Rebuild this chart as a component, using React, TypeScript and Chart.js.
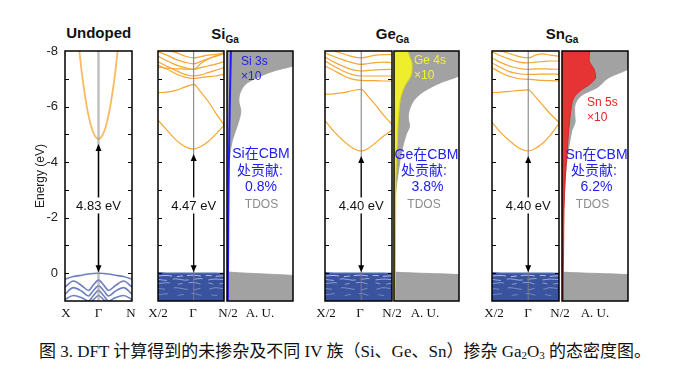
import React, { useEffect, useRef } from "react";
import { Chart, registerables } from "chart.js";
Chart.register(...registerables);

// ---------------- data ----------------
const E_MIN = -8;
const E_MAX = 1;
const GAP_LABEL_E = -2.44;
const yTicks = [-8, -6, -4, -2, 0];

// Undoped (X - Γ - N)
const undopedCbK = [-0.65, -0.5, -0.4, -0.3, -0.2, -0.1, 0, 0.1, 0.2, 0.3, 0.4, 0.5, 0.65];
const undopedCb = [-8.9, -7.23, -6.37, -5.69, -5.21, -4.93, -4.83, -4.93, -5.21, -5.69, -6.37, -7.23, -8.9];
const undopedVbK = [-1, -0.75, -0.5, -0.3, -0.15, 0, 0.15, 0.3, 0.5, 0.75, 1];
const undopedVb1 = [0.21, 0.12, 0.07, 0.03, 0.01, 0, 0.01, 0.03, 0.07, 0.12, 0.21];
const undopedVb2 = [0.5, 0.28, 0.45, 0.62, 0.42, 0.25, 0.42, 0.62, 0.45, 0.28, 0.5];
const undopedVb3 = [0.75, 0.52, 0.65, 0.82, 0.62, 0.45, 0.62, 0.82, 0.65, 0.52, 0.75];
const undopedVb4 = [0.95, 0.8, 0.88, 1.0, 0.8, 0.62, 0.8, 1.0, 0.88, 0.8, 0.95];
const undopedVb5 = [1.1, 1.05, 1.05, 1.1, 0.95, 0.8, 0.95, 1.1, 1.05, 1.05, 1.1];

// Doped (X/2 - Γ - N/2)
const dopedK = [-1, -0.75, -0.5, -0.25, 0, 0.2, 0.4, 0.6, 0.85];
const vbTop = [-0.02, 0, 0, 0, 0, 0, 0, 0, 0.01];
const vbStreakA = [0.1, 0.08, 0.12, 0.09, 0.07, 0.1, 0.08, 0.11, 0.09];
const vbStreakB = [0.22, 0.26, 0.2, 0.25, 0.22, 0.19, 0.24, 0.21, 0.23];
const vbStreakC = [0.38, 0.34, 0.4, 0.36, 0.33, 0.39, 0.35, 0.4, 0.36];
const vbStreakD = [0.55, 0.58, 0.52, 0.57, 0.6, 0.54, 0.58, 0.52, 0.56];
const vbStreakE = [0.78, 0.74, 0.8, 0.76, 0.73, 0.79, 0.75, 0.8, 0.77];

const siCb1 = [-5.51, -5.15, -4.8, -4.56, -4.47, -4.56, -4.73, -4.98, -5.32];
const siCb2 = [-6.5, -6.52, -6.58, -6.7, -6.8, -6.52, -6.2, -5.8, -5.34];
const siU1 = [-8.1, -8.02, -7.95, -7.82, -7.75, -7.8, -7.85, -7.88, -7.9];
const siU2 = [-7.97, -7.85, -7.7, -7.6, -7.54, -7.62, -7.72, -7.8, -7.9];
const siU3 = [-7.81, -7.65, -7.5, -7.4, -7.34, -7.4, -7.46, -7.52, -7.61];
const siU4 = [-7.61, -7.45, -7.3, -7.16, -7.1, -7.14, -7.22, -7.3, -7.4];
const siU5 = [-7.49, -7.35, -7.18, -7.06, -7.01, -7.04, -7.08, -7.1, -7.16];
const siU6 = [-7.42, -7.38, -7.36, -7.35, -7.34, -7.55, -7.7, -7.82, -7.95];

const geCb1 = [-5.49, -5.1, -4.78, -4.52, -4.4, -4.5, -4.7, -4.92, -5.15];
const geCb2 = [-6.44, -6.46, -6.5, -6.57, -6.62, -6.35, -6.05, -5.72, -5.36];
const geU1 = [-8.1, -8.0, -7.9, -7.8, -7.75, -7.8, -7.85, -7.87, -7.87];
const geU2 = [-7.93, -7.8, -7.68, -7.58, -7.52, -7.55, -7.58, -7.6, -7.58];
const geU3 = [-7.78, -7.6, -7.45, -7.33, -7.28, -7.3, -7.32, -7.33, -7.34];
const geU4 = [-7.64, -7.45, -7.28, -7.15, -7.1, -7.1, -7.1, -7.1, -7.1];
const geU5 = [-7.46, -7.3, -7.12, -6.99, -6.94, -6.93, -6.93, -6.92, -6.92];

const snCb1 = [-5.43, -5.05, -4.75, -4.5, -4.4, -4.5, -4.68, -4.95, -5.39];
const snCb2 = [-6.5, -6.52, -6.55, -6.58, -6.6, -6.35, -6.05, -5.75, -5.43];
const snU1 = [-8.1, -8.0, -7.9, -7.8, -7.75, -7.85, -7.9, -7.85, -7.81];
const snU2 = [-7.97, -7.82, -7.7, -7.6, -7.57, -7.6, -7.62, -7.64, -7.64];
const snU3 = [-7.75, -7.58, -7.45, -7.37, -7.34, -7.36, -7.36, -7.35, -7.34];
const snU4 = [-7.57, -7.4, -7.25, -7.18, -7.16, -7.16, -7.17, -7.17, -7.16];
const snU5 = [-7.4, -7.22, -7.08, -7.0, -6.98, -6.96, -6.94, -6.93, -6.92];

const gaps = { undoped: 4.83, si: 4.47, ge: 4.4, sn: 4.4 };

// DOS (energy, arbitrary-unit DOS)
const siTdosE = [-8.0, -7.7, -7.46, -7.28, -7.04, -6.86, -6.56, -6.2, -5.84, -5.49, -5.13, -4.77, -4.29, -3.45, -3.0, -0.06, 0.08, 0.3, 1.0];
const siTdosD = [1.4, 1.2, 1.0, 0.71, 0.46, 0.31, 0.21, 0.18, 0.21, 0.18, 0.13, 0.08, 0.045, 0.02, 0, 0, 1.0, 1.6, 1.6];
const siPdosE = [-8, -7, -6, -5, -4, -3, -2, -1, 0, 1];
const siPdosD = [0.06, 0.05, 0.042, 0.035, 0.028, 0.024, 0.02, 0.018, 0.015, 0.012];

const geTdosE = [-8, -7.5, -7.1, -6.86, -6.56, -6.26, -5.9, -5.6, -5.31, -5.01, -4.41, -3.7, -3.0, -2.0, -0.05, 0.05, 0.3, 1];
const geTdosD = [1.4, 1.2, 1.0, 0.72, 0.47, 0.32, 0.24, 0.22, 0.24, 0.19, 0.12, 0.07, 0.03, 0, 0, 1.0, 1.6, 1.6];
const gePdosE = [-8, -7.75, -7.52, -7.16, -6.75, -6.38, -5.9, -5.2, -4.3, -3.45, -2, 0, 1];
const gePdosD = [0.21, 0.25, 0.28, 0.27, 0.17, 0.11, 0.08, 0.06, 0.045, 0.03, 0.025, 0.02, 0.012];

const snTdosE = [-8, -7.7, -7.34, -7.04, -6.68, -6.44, -6.14, -5.84, -5.48, -5.13, -4.77, -4.17, -3.45, -2.5, -1.5, -0.05, 0.05, 0.3, 1];
const snTdosD = [1.4, 1.2, 1.0, 0.71, 0.53, 0.32, 0.21, 0.19, 0.2, 0.15, 0.12, 0.08, 0.05, 0.02, 0, 0, 1.0, 1.6, 1.6];
const snPdosE = [-8, -7.68, -7.32, -7.06, -6.8, -6.56, -6.32, -5.96, -5.6, -5.13, -4.65, -4.17, -3.45, -2.26, -1, 0, 1];
const snPdosD = [0.42, 0.41, 0.49, 0.51, 0.42, 0.27, 0.18, 0.14, 0.12, 0.1, 0.085, 0.07, 0.05, 0.03, 0.025, 0.02, 0.02];

// ---------------- helpers ----------------
const SANS = '"Liberation Sans", Arial, "Noto Sans CJK SC", sans-serif';
const SERIF = '"Liberation Serif", "Times New Roman", "Noto Sans CJK SC", serif';

const ORANGE = "#f6a733";
const ORANGE_LIGHT = "#f8bb62";

function pts(k: number[], e: number[]) {
  return k.map((x, i) => ({ x, y: e[i] }));
}
function dosPts(e: number[], d: number[]) {
  return e.map((y, i) => ({ x: d[i], y }));
}
function line(k: number[], e: number[], color: string, width: number, extra: any = {}) {
  return {
    data: pts(k, e),
    borderColor: color,
    borderWidth: width,
    pointRadius: 0,
    fill: false,
    cubicInterpolationMode: "monotone",
    order: 0,
    ...extra,
  };
}

function decoPlugin(kind: "band" | "dos", opts: any = {}) {
  return {
    id: "deco",
    afterDatasetsDraw(chart: any) {
      const { ctx, chartArea: a, scales } = chart;
      const xs = scales.x;
      const ys = scales.y;
      ctx.save();
      if (kind === "band") {
        const gx = xs.getPixelForValue(0);
        ctx.strokeStyle = opts.gammaColor;
        ctx.lineWidth = opts.gammaWidth;
        ctx.beginPath();
        ctx.moveTo(gx, a.top);
        ctx.lineTo(gx, a.bottom);
        ctx.stroke();

        // gap arrow
        const yTop = ys.getPixelForValue(-opts.gap) + 5;
        const yBot = ys.getPixelForValue(0) - 1;
        ctx.strokeStyle = "#000";
        ctx.fillStyle = "#000";
        ctx.lineWidth = 1.2;
        ctx.beginPath();
        ctx.moveTo(gx, yTop + 4);
        ctx.lineTo(gx, yBot - 4);
        ctx.stroke();
        ctx.beginPath();
        ctx.moveTo(gx, yTop);
        ctx.lineTo(gx - 3, yTop + 7);
        ctx.lineTo(gx + 3, yTop + 7);
        ctx.closePath();
        ctx.fill();
        ctx.beginPath();
        ctx.moveTo(gx, yBot);
        ctx.lineTo(gx - 3, yBot - 7);
        ctx.lineTo(gx + 3, yBot - 7);
        ctx.closePath();
        ctx.fill();

        // label
        const txt = `${opts.gap.toFixed(2)} eV`;
        const ly = ys.getPixelForValue(GAP_LABEL_E);
        ctx.font = `13px ${SANS}`;
        const w = ctx.measureText(txt).width;
        ctx.fillStyle = "#fff";
        ctx.fillRect(gx - w / 2 - 1, ly - 8, w + 2, 16);
        ctx.fillStyle = "#111";
        ctx.textAlign = "center";
        ctx.textBaseline = "middle";
        ctx.fillText(txt, gx, ly + 0.5);

        // inner tick marks
        ctx.strokeStyle = "#000";
        ctx.lineWidth = 1;
        for (let v = E_MIN + 1; v < E_MAX; v++) {
          const py = Math.round(ys.getPixelForValue(v)) + 0.5;
          ctx.beginPath();
          ctx.moveTo(a.left, py);
          ctx.lineTo(a.left + 4, py);
          ctx.moveTo(a.right, py);
          ctx.lineTo(a.right - 4, py);
          ctx.stroke();
        }
      }
      ctx.strokeStyle = "#000";
      ctx.lineWidth = 1.5;
      ctx.strokeRect(a.left, a.top, a.right - a.left, a.bottom - a.top);
      ctx.restore();
    },
  };
}

function baseOptions(xMin: number, xMax: number, extra: any = {}) {
  return {
    animation: false,
    responsive: false,
    events: [],
    layout: { padding: 2 },
    plugins: { legend: { display: false }, tooltip: { enabled: false } },
    scales: {
      x: { type: "linear", min: xMin, max: xMax, display: false },
      y: { type: "linear", min: E_MIN, max: E_MAX, reverse: true, display: false },
    },
    ...extra,
  };
}

function dopedBandConfig(cbBands: number[][], gap: number) {
  const streak = (e: number[], a: number, dash: number[]) =>
    line(dopedK, e, `rgba(225,230,250,${a})`, 1, { borderDash: dash, order: 5 });
  const datasets: any[] = [
    line(dopedK, vbTop, "#4f66b2", 1.4, {
      fill: { value: E_MAX + 0.5 },
      backgroundColor: "#3a539f",
      cubicInterpolationMode: "default",
      tension: 0,
      order: 10,
    }),
    streak(vbStreakA, 0.75, [14, 5, 6, 4]),
    streak(vbStreakB, 0.6, [9, 6, 16, 5]),
    streak(vbStreakC, 0.5, [12, 8, 5, 6]),
    streak(vbStreakD, 0.4, [7, 9, 14, 6]),
    streak(vbStreakE, 0.35, [10, 10, 6, 8]),
    ...cbBands.map((b) => line(dopedK, b, ORANGE, 1.2)),
  ];
  return {
    type: "line",
    data: { datasets },
    options: baseOptions(-1, 0.85),
    plugins: [decoPlugin("band", { gap, gammaColor: "#7a7a7a", gammaWidth: 1 })],
  };
}

function dosConfig(
  tE: number[],
  tD: number[],
  pE: number[],
  pD: number[],
  pFill: string | null,
  pBorder: string,
  pWidth: number
) {
  return {
    type: "line",
    data: {
      datasets: [
        {
          data: dosPts(pE, pD),
          borderColor: pBorder,
          borderWidth: pWidth,
          backgroundColor: pFill || "rgba(0,0,0,0)",
          fill: pFill ? "origin" : false,
          pointRadius: 0,
          cubicInterpolationMode: "monotone",
          order: 1,
        },
        {
          data: dosPts(tE, tD),
          borderColor: "#9c9c9c",
          borderWidth: 0.8,
          backgroundColor: "#a2a2a2",
          fill: "origin",
          pointRadius: 0,
          cubicInterpolationMode: "monotone",
          order: 2,
        },
      ],
    },
    options: baseOptions(0, 1, { indexAxis: "y" }),
    plugins: [decoPlugin("dos")],
  };
}

function undopedConfig() {
  const vb = "rgba(85,104,182,0.85)";
  const opts: any = baseOptions(-1, 1);
  opts.layout = { padding: { left: 0, right: 2, top: 20, bottom: 20 } };
  opts.scales.y = {
    type: "linear",
    min: E_MIN,
    max: E_MAX,
    reverse: true,
    display: true,
    afterFit: (s: any) => {
      s.width = 32;
    },
    afterBuildTicks: (s: any) => {
      s.ticks = yTicks.map((v) => ({ value: v }));
    },
    grid: { display: false, drawTicks: false },
    border: { display: false },
    ticks: { padding: 7, color: "#222", font: { family: SANS, size: 13 } },
    title: {
      display: true,
      text: "Energy (eV)",
      color: "#222",
      font: { family: SANS, size: 12 },
      padding: { top: 0, bottom: 0 },
    },
  };
  return {
    type: "line",
    data: {
      datasets: [
        line(undopedVbK, undopedVb1, vb, 1.6),
        line(undopedVbK, undopedVb2, vb, 1.6),
        line(undopedVbK, undopedVb3, vb, 1.6),
        line(undopedVbK, undopedVb4, vb, 1.6),
        line(undopedVbK, undopedVb5, vb, 1.6),
        line(undopedCbK, undopedCb, ORANGE_LIGHT, 1.8),
      ],
    },
    options: opts,
    plugins: [decoPlugin("band", { gap: gaps.undoped, gammaColor: "rgba(150,150,150,0.6)", gammaWidth: 2.5 })],
  };
}

function ChartCanvas({ x, y, w, h, make }: { x: number; y: number; w: number; h: number; make: () => any }) {
  const ref = useRef<HTMLCanvasElement>(null);
  useEffect(() => {
    const c = new Chart(ref.current as HTMLCanvasElement, make());
    return () => c.destroy();
  }, []);
  return (
    <canvas
      ref={ref}
      width={w}
      height={h}
      style={{ position: "absolute", left: x, top: y, width: w, height: h }}
    />
  );
}

function Txt({ x, y, children, style, anchor = "center" }: any) {
  return (
    <div
      style={{
        position: "absolute",
        left: x,
        top: y,
        transform: anchor === "center" ? "translate(-50%, -50%)" : "translate(0, -50%)",
        whiteSpace: "nowrap",
        lineHeight: 1,
        ...style,
      }}
    >
      {children}
    </div>
  );
}

const FT = 51; // frame top
const FH = 250; // frame height

export default function App() {
  const axisLbl = { fontFamily: SERIF, fontSize: 13, color: "#111" };
  const titleStyle = { fontFamily: SANS, fontSize: 15, fontWeight: 700, color: "#111" };
  const subStyle: any = { fontSize: 10, position: "relative", top: 4 };
  const blue = { fontFamily: SANS, fontSize: 14, color: "#2020f4" };
  const tdos = { fontFamily: SANS, fontSize: 12, color: "#8c8c8c" };
  return (
    <div style={{ position: "absolute", left: 0, top: 0, width: 678, height: 379, background: "#fff", overflow: "hidden" }}>
      {/* titles */}
      <Txt x={98.7} y={32} style={titleStyle}>Undoped</Txt>
      <Txt x={225} y={33} style={titleStyle}>Si<span style={subStyle}>Ga</span></Txt>
      <Txt x={392.5} y={33} style={titleStyle}>Ge<span style={subStyle}>Ga</span></Txt>
      <Txt x={562} y={33} style={titleStyle}>Sn<span style={subStyle}>Ga</span></Txt>

      {/* panels */}
      <ChartCanvas x={33} y={FT - 20} w={32 + 67 + 2} h={FH + 40} make={undopedConfig} />

      <ChartCanvas x={156} y={FT - 2} w={66 + 4} h={FH + 4} make={() => dopedBandConfig([siCb1, siCb2, siU1, siU2, siU3, siU4, siU5, siU6], gaps.si)} />
      <ChartCanvas x={225} y={FT - 2} w={66 + 4} h={FH + 4} make={() => dosConfig(siTdosE, siTdosD, siPdosE, siPdosD, null, "#1f1ff5", 2)} />

      <ChartCanvas x={323} y={FT - 2} w={67 + 4} h={FH + 4} make={() => dopedBandConfig([geCb1, geCb2, geU1, geU2, geU3, geU4, geU5], gaps.ge)} />
      <ChartCanvas x={392} y={FT - 2} w={65 + 4} h={FH + 4} make={() => dosConfig(geTdosE, geTdosD, gePdosE, gePdosD, "#eeee2a", "#d6d61a", 1)} />

      <ChartCanvas x={490} y={FT - 2} w={67 + 4} h={FH + 4} make={() => dopedBandConfig([snCb1, snCb2, snU1, snU2, snU3, snU4, snU5], gaps.sn)} />
      <ChartCanvas x={560} y={FT - 2} w={66 + 4} h={FH + 4} make={() => dosConfig(snTdosE, snTdosD, snPdosE, snPdosD, "#e63434", "#e02424", 1)} />

      {/* DOS annotations */}
      <Txt x={241} y={61} anchor="left" style={{ ...blue, fontSize: 12 }}>Si 3s</Txt>
      <Txt x={241} y={76} anchor="left" style={{ ...blue, fontSize: 12 }}>×10</Txt>
      <Txt x={261} y={153} style={blue}>Si在CBM</Txt>
      <Txt x={260} y={170} style={blue}>处贡献:</Txt>
      <Txt x={261} y={186} style={blue}>0.8%</Txt>
      <Txt x={261.5} y={204} style={tdos}>TDOS</Txt>

      <Txt x={414} y={60} anchor="left" style={{ fontFamily: SANS, fontSize: 12, color: "#f2f23a" }}>Ge 4s</Txt>
      <Txt x={414} y={75} anchor="left" style={{ fontFamily: SANS, fontSize: 12, color: "#f2f23a" }}>×10</Txt>
      <Txt x={426.5} y={154} style={blue}>Ge在CBM</Txt>
      <Txt x={424} y={170} style={blue}>处贡献:</Txt>
      <Txt x={427.5} y={186} style={blue}>3.8%</Txt>
      <Txt x={424} y={204} style={tdos}>TDOS</Txt>

      <Txt x={587} y={102} anchor="left" style={{ fontFamily: SANS, fontSize: 12, color: "#e82222" }}>Sn 5s</Txt>
      <Txt x={587} y={117} anchor="left" style={{ fontFamily: SANS, fontSize: 12, color: "#e82222" }}>×10</Txt>
      <Txt x={596.5} y={154} style={blue}>Sn在CBM</Txt>
      <Txt x={594} y={170} style={blue}>处贡献:</Txt>
      <Txt x={596.5} y={186} style={blue}>6.2%</Txt>
      <Txt x={592.5} y={204} style={tdos}>TDOS</Txt>

      {/* k-point labels */}
      <Txt x={66} y={312} style={axisLbl}>X</Txt>
      <Txt x={98.5} y={312} style={axisLbl}>Γ</Txt>
      <Txt x={131} y={312} style={axisLbl}>N</Txt>

      <Txt x={158} y={312} style={axisLbl}>X/2</Txt>
      <Txt x={193} y={312} style={axisLbl}>Γ</Txt>
      <Txt x={228} y={312} style={axisLbl}>N/2</Txt>
      <Txt x={260} y={312} style={axisLbl}>A. U.</Txt>

      <Txt x={326} y={312} style={axisLbl}>X/2</Txt>
      <Txt x={360} y={312} style={axisLbl}>Γ</Txt>
      <Txt x={392} y={312} style={axisLbl}>N/2</Txt>
      <Txt x={425} y={312} style={axisLbl}>A. U.</Txt>

      <Txt x={494} y={312} style={axisLbl}>X/2</Txt>
      <Txt x={528} y={312} style={axisLbl}>Γ</Txt>
      <Txt x={560} y={312} style={axisLbl}>N/2</Txt>
      <Txt x={595} y={312} style={axisLbl}>A. U.</Txt>

      {/* caption */}
      <Txt x={39} y={352} anchor="left" style={{ fontFamily: SERIF, fontSize: 17, color: "#111" }}>
        图 3. DFT 计算得到的未掺杂及不同 IV 族（Si、Ge、Sn）掺杂 Ga<sub style={{ fontSize: 11, verticalAlign: "-2px" }}>2</sub>O<sub style={{ fontSize: 11, verticalAlign: "-2px" }}>3</sub> 的态密度图。
      </Txt>
    </div>
  );
}
